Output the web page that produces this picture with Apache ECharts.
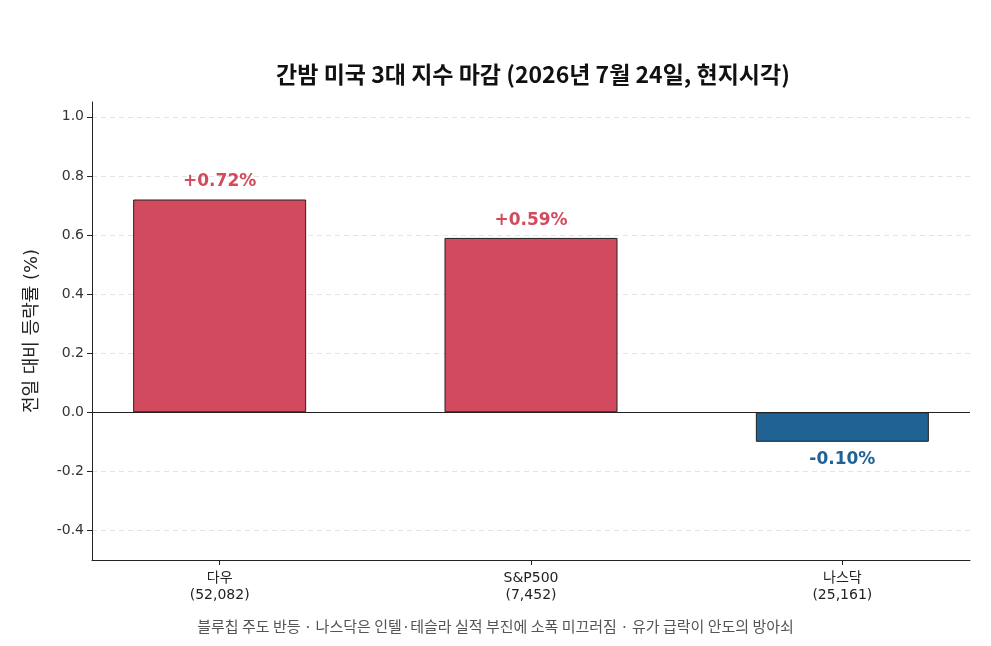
<!DOCTYPE html>
<html>
<head>
<meta charset="utf-8">
<script src="https://cdn.jsdelivr.net/npm/echarts@6/dist/echarts.min.js"></script>
<style>
  html, body { margin: 0; padding: 0; background: #fff; }
  #chart { width: 991px; height: 646px; }
</style>
</head>
<body>
<div id="chart"></div>
<script>
var indexNames = ['다우', 'S&P500', '나스닥'];
var closeLevels = ['52,082', '7,452', '25,161'];
var changePct = [0.72, 0.59, -0.10];
var yTicks = [-0.4, -0.2, 0.0, 0.2, 0.4, 0.6, 0.8, 1.0];
var xTicks = [0, 1, 2];

var FONT = '"DejaVu Sans", "Noto Sans CJK KR", sans-serif';
var KFONT = '"Noto Sans CJK KR", "Noto Sans", sans-serif';
var UP = '#d24a5d';
var DOWN = '#1f6293';

var chart = echarts.init(document.getElementById('chart'));

chart.setOption({
  backgroundColor: '#fff',
  textStyle: { fontFamily: FONT },
  title: {
    text: '간밤 미국 3대 지수 마감 (2026년 7월 24일, 현지시각)',
    left: 528,
    textAlign: 'center',
    top: 58,
    textStyle: { fontFamily: KFONT, fontSize: 23, fontWeight: 'bold', color: '#111' }
  },
  graphic: [{
    type: 'text',
    left: 'center',
    top: 619,
    style: {
      text: '블루칩 주도 반등 · 나스닥은 인텔·테슬라 실적 부진에 소폭 미끄러짐 · 유가 급락이 안도의 방아쇠',
      fontFamily: KFONT,
      fontSize: 15,
      fill: '#555'
    }
  }],
  grid: { left: 92, right: 21, top: 102, bottom: 86 },
  xAxis: {
    type: 'value',
    min: -0.41,
    max: 2.41,
    axisLine: { onZero: false, lineStyle: { color: '#222', width: 1 } },
    axisTick: { show: true, length: 5, lineStyle: { color: '#222' }, customValues: xTicks },
    axisLabel: {
      color: '#222', fontSize: 14, lineHeight: 17, margin: 10, fontFamily: FONT,
      customValues: xTicks,
      formatter: function (v) { return indexNames[v] + '\n(' + closeLevels[v] + ')'; }
    },
    splitLine: { show: false }
  },
  yAxis: {
    type: 'value',
    min: -0.5,
    max: 1.05,
    name: '전일 대비 등락률 (%)',
    nameLocation: 'middle',
    nameGap: 51,
    nameRotate: 90,
    nameTextStyle: { fontSize: 18, color: '#222', fontFamily: FONT },
    axisLine: { show: true, onZero: false, lineStyle: { color: '#222', width: 1 } },
    axisTick: { show: true, length: 5, lineStyle: { color: '#222' }, customValues: yTicks },
    axisLabel: {
      color: '#333', fontSize: 14, margin: 8, fontFamily: FONT,
      customValues: yTicks,
      formatter: function (v) { return v.toFixed(1); }
    },
    splitLine: { show: true, lineStyle: { color: '#e3e3e3', type: [5, 4], width: 1 } }
  },
  series: [{
    type: 'bar',
    barWidth: 173,
    data: changePct.map(function (v, i) {
      return {
        value: [i, v],
        itemStyle: { color: v >= 0 ? UP : DOWN, borderColor: '#222', borderWidth: 1 },
        label: {
          show: true,
          position: v >= 0 ? 'top' : 'bottom',
          distance: 9,
          formatter: (v >= 0 ? '+' : '') + v.toFixed(2) + '%',
          color: v >= 0 ? UP : DOWN,
          fontSize: 17,
          fontWeight: 'bold',
          fontFamily: FONT
        }
      };
    }),
    markLine: {
      silent: true,
      symbol: 'none',
      label: { show: false },
      lineStyle: { color: '#222', width: 1, type: 'solid' },
      data: [{ yAxis: 0 }]
    }
  }]
});
</script>
</body>
</html>
